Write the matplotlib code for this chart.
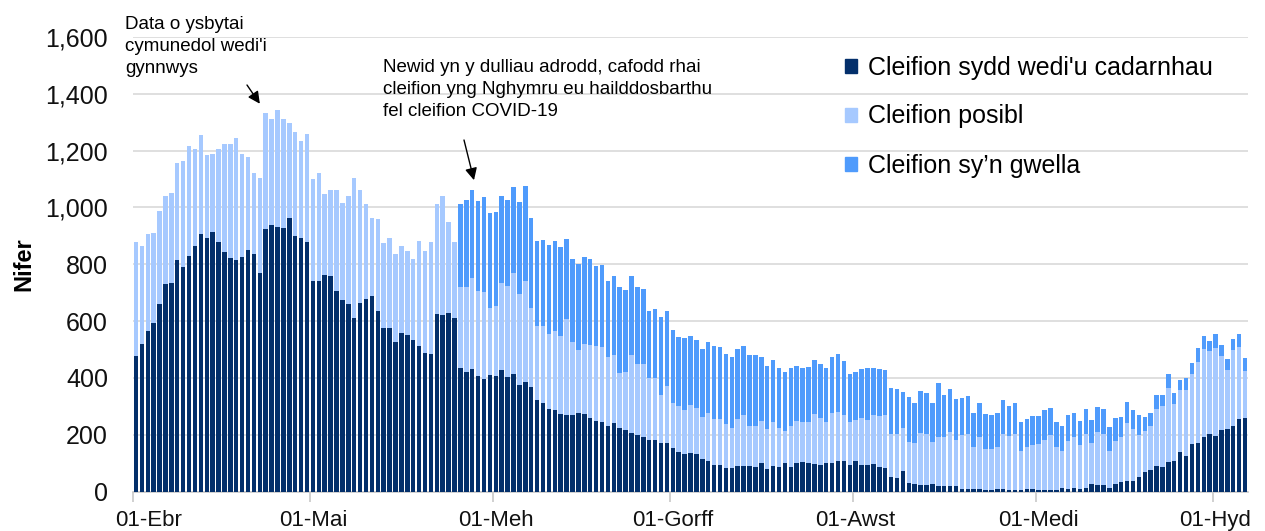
import matplotlib
matplotlib.use("Agg")
import matplotlib.pyplot as plt
from matplotlib.patches import Patch
from matplotlib.ticker import FuncFormatter, FixedLocator
from matplotlib.transforms import ScaledTranslation
import numpy as np

plt.rcParams['font.family'] = ['Liberation Sans', 'DejaVu Sans']

# Daily values, 01-Ebr (1 April) to 06-Hyd (6 October): 189 days
# confirmed: height of confirmed patients
confirmed = [
    478, 519, 564, 592, 660, 730, 734, 814, 790, 830, 863, 906, 894, 914, 879, 843, 822, 814, 826, 850, 835, 769, 924, 939, 931, 927, 964, 899, 891,
    879, 741, 741, 762, 757, 706, 674, 661, 612, 665, 678, 688, 637, 576, 576, 528, 559, 552, 532, 511, 488, 483, 625, 620, 628, 612,
    436, 420, 431, 407, 395, 411, 407, 426, 403, 415, 375, 386, 367, 323, 313, 290, 286, 272, 269, 269, 278, 274, 258, 249, 245, 230, 241, 225, 215, 206, 199,
    192, 183, 180, 171, 171, 152, 140, 131, 135, 131, 115, 106, 94, 94, 82, 82, 91, 91, 91, 87, 100, 79, 91, 87, 99, 87, 99, 103, 102,
    98, 94, 102, 102, 107, 107, 94, 107, 94, 94, 98, 87, 83, 51, 46, 71, 31, 27, 22, 22, 27, 18, 18, 18, 18, 9, 9, 9,
    8, 4, 6, 8, 8, 6, 5, 5, 8, 8, 6, 6, 6, 6,
    14, 9, 14, 9, 14, 27, 22, 22, 14, 27, 33, 37, 37, 50, 70,
    75, 90, 87, 103, 106, 138, 126, 167, 171, 192, 204, 195, 215, 220, 230, 256, 260,
]

# confirmed + suspected (top of the light segment)
confirmed_plus_suspected = [
    879, 863, 906, 910, 988, 1040, 1052, 1157, 1164, 1217, 1205, 1254, 1185, 1189, 1205, 1225, 1225, 1245, 1189, 1177, 1121, 1103, 1331, 1310, 1342, 1310, 1298, 1266, 1234,
    1258, 1100, 1121, 1047, 1063, 1060, 1015, 1040, 1103, 1060, 1011, 962, 959, 875, 891, 837, 866, 846, 817, 882, 846, 878, 1011, 1040, 947, 878,
    719, 721, 751, 705, 701, 645, 653, 733, 725, 768, 697, 741, 645, 581, 584, 556, 566, 546, 608, 528, 497, 520, 515, 512, 508, 472, 479, 416, 420, 481, 450,
    450, 398, 398, 341, 373, 313, 301, 288, 305, 293, 261, 276, 256, 256, 236, 223, 256, 269, 232, 232, 248, 220, 245, 223, 212, 232, 248, 244, 244,
    272, 260, 243, 276, 280, 268, 243, 252, 260, 252, 268, 265, 268, 203, 203, 223, 175, 172, 207, 203, 175, 193, 192, 210, 183, 200, 203, 155,
    192, 151, 151, 155, 203, 196, 203, 142, 155, 163, 167, 183, 200, 155,
    143, 179, 193, 163, 202, 172, 209, 202, 143, 179, 193, 242, 219, 199, 214,
    230, 291, 301, 364, 308, 357, 357, 413, 456, 500, 494, 505, 477, 428, 497, 509, 424,
]

# total = confirmed + suspected + recovering
total = [
    879, 863, 906, 910, 988, 1040, 1052, 1157, 1164, 1217, 1205, 1254, 1185, 1189, 1205, 1225, 1225, 1245, 1189, 1177, 1121, 1103, 1331, 1310, 1342, 1310, 1298, 1266, 1234,
    1258, 1100, 1121, 1047, 1063, 1060, 1015, 1040, 1103, 1060, 1011, 962, 959, 875, 891, 837, 866, 846, 817, 882, 846, 878, 1011, 1040, 947, 878,
    1012, 1027, 1060, 1023, 1035, 980, 984, 1040, 1027, 1071, 1019, 1075, 963, 883, 885, 867, 882, 862, 890, 817, 801, 826, 817, 795, 797, 741, 758, 721, 710, 760, 720,
    714, 636, 644, 616, 636, 570, 543, 540, 548, 535, 503, 527, 512, 507, 483, 472, 500, 512, 480, 482, 474, 442, 463, 435, 421, 435, 442, 435, 438,
    463, 450, 434, 475, 483, 459, 414, 419, 430, 435, 435, 430, 427, 366, 362, 350, 333, 313, 354, 346, 313, 382, 338, 361, 325, 329, 336, 276,
    313, 273, 268, 276, 322, 301, 313, 243, 256, 265, 265, 288, 293, 243,
    231, 268, 278, 247, 292, 252, 296, 292, 227, 260, 263, 316, 287, 268, 263,
    278, 339, 339, 412, 347, 392, 400, 453, 505, 549, 529, 553, 517, 468, 536, 553, 471,
]

month_start_index = [0, 30, 61, 91, 122, 153, 183]
month_labels = ["01-Ebr", "01-Mai", "01-Meh", "01-Gorff", "01-Awst", "01-Medi", "01-Hyd"]
series_labels = ["Cleifion sydd wedi'u cadarnhau", "Cleifion posibl", "Cleifion sy\u2019n gwella"]

c_dark = "#032F6B"
c_light = "#A6C9FF"
c_mid = "#4F9BFC"

fig = plt.figure(figsize=(12.65, 5.31), dpi=100)
ax = fig.add_axes([133/1265, 1-491.5/531, (1248-133)/1265, (491.5-37)/531])

x = np.arange(len(total))
w = 0.76
ax.bar(x, total, width=w, color=c_mid, linewidth=0, zorder=2)
ax.bar(x, confirmed_plus_suspected, width=w, color=c_light, linewidth=0, zorder=3)
ax.bar(x, confirmed, width=w, color=c_dark, linewidth=0, zorder=4)

ax.set_xlim(-0.5, len(total) - 0.5)
ax.set_ylim(0, 1600)
ax.set_yticks(np.arange(0, 1601, 200))
ax.yaxis.set_major_formatter(FuncFormatter(lambda v, p: f"{int(v):,}"))
ax.grid(axis='y', color='#d9d9d9', linewidth=1.2, zorder=0)
ax.set_axisbelow(True)

for s in ['top', 'right', 'left']:
    ax.spines[s].set_visible(False)
ax.spines['bottom'].set_color('#c8c8c8')
ax.spines['bottom'].set_linewidth(1.2)

ax.xaxis.set_major_locator(FixedLocator([i - 0.5 for i in month_start_index]))
ax.set_xticklabels([])
ax.xaxis.set_minor_locator(FixedLocator([i for i in month_start_index]))
ax.set_xticklabels(month_labels, minor=True)
ax.tick_params(axis='x', which='major', length=7, color='#c8c8c8', width=1.2)
ax.tick_params(axis='x', which='minor', length=0, labelsize=16, pad=13, colors='#111111')
ax.tick_params(axis='y', length=0, labelsize=18, pad=18, colors='#111111')

# first month label sits slightly to the right, as in the original
first_lab = ax.xaxis.get_minorticklabels()[0]
first_lab.set_transform(first_lab.get_transform() + ScaledTranslation(13/100, 0, fig.dpi_scale_trans))

ax.set_ylabel("Nifer", fontsize=17, fontweight='bold', labelpad=7)

handles = [Patch(color=c_dark), Patch(color=c_light), Patch(color=c_mid)]
fig.legend(handles, series_labels, loc='upper left',
           bbox_to_anchor=(822/1265, 1 - 33/531), frameon=False, fontsize=18,
           handlelength=0.5, handleheight=0.5, handletextpad=0.45, labelspacing=1.0)

ann_kw = dict(fontsize=13.5, linespacing=1.4, ha='left', va='top')
fig.text(125/1265, 515/531, "Data o ysbytai\ncymunedol wedi'i\ngynnwys", **ann_kw)
fig.text(383/1265, 472/531,
         "Newid yn y dulliau adrodd, cafodd rhai\ncleifion yng Nghymru eu hailddosbarthu\nfel cleifion COVID-19",
         **ann_kw)

arrow_kw = dict(arrowstyle='-|>', color='black', lw=1, mutation_scale=18, shrinkA=0, shrinkB=0)
ax.annotate("", xy=(21.0, 1365), xycoords='data', xytext=(247, 446), textcoords='figure pixels',
            arrowprops=arrow_kw)
ax.annotate("", xy=(57.3, 1096), xycoords='data', xytext=(464, 391), textcoords='figure pixels',
            arrowprops=arrow_kw)

fig.savefig("out.png", dpi=100)
